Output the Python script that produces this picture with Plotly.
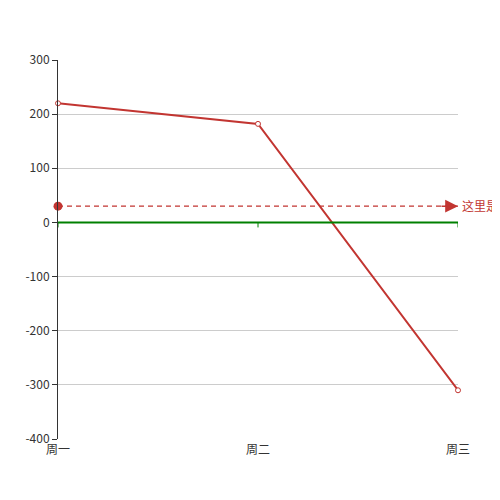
import plotly.graph_objects as go

categories = ["周一", "周二", "周三"]
values = [220, 182, -310]
mark_value = 30
mark_label = "这里是"
y_ticks = [-400, -300, -200, -100, 0, 100, 200, 300]
y_tick_text = [str(v) for v in y_ticks]

RED = "#c23531"
FONT = "Noto Sans CJK SC, Microsoft YaHei, sans-serif"

fig = go.Figure()

fig.add_trace(go.Scatter(
    x=categories, y=values, mode="lines+markers",
    line=dict(color=RED, width=2),
    marker=dict(symbol="circle", size=5, color="white", line=dict(color=RED, width=1)),
    showlegend=False, hoverinfo="skip", cliponaxis=False,
))

# mark line (dashed) with start circle and end arrow
fig.add_trace(go.Scatter(
    x=[categories[0], categories[-1]], y=[mark_value, mark_value], mode="lines",
    line=dict(color=RED, width=1.2, dash="5px,4px"),
    showlegend=False, hoverinfo="skip", cliponaxis=False,
))
fig.add_trace(go.Scatter(
    x=[categories[0]], y=[mark_value], mode="markers",
    marker=dict(symbol="circle", size=9, color=RED),
    showlegend=False, hoverinfo="skip", cliponaxis=False,
))
fig.add_annotation(
    x=categories[-1], y=mark_value, ax=-18, ay=0, xref="x", yref="y",
    axref="pixel", ayref="pixel", text="", showarrow=True,
    arrowhead=2, arrowsize=1.6, arrowwidth=1.6, arrowcolor=RED, standoff=0,
)
fig.add_annotation(
    x=categories[-1], y=mark_value, xref="x", yref="y", text=mark_label,
    showarrow=False, xanchor="left", xshift=2, yshift=1,
    font=dict(family=FONT, size=12, color=RED),
)

# green zero axis line with ticks
fig.add_shape(type="line", xref="paper", yref="y", x0=0, x1=1, y0=0, y1=0,
              line=dict(color="green", width=2), layer="above")
for c in categories:
    fig.add_shape(type="line", xref="x", yref="y", x0=c, x1=c,
                  ysizemode="pixel", yanchor=0, y0=0, y1=-5,
                  line=dict(color="green", width=1), layer="above")

fig.update_layout(
    width=492, height=484,
    margin=dict(l=50, r=42, t=52, b=53),
    paper_bgcolor="white", plot_bgcolor="white",
    font=dict(family=FONT, size=12, color="#333"),
    xaxis=dict(
        type="category", range=[0, len(categories) - 1],
        showgrid=False, showline=False, zeroline=False,
        ticks="", tickfont=dict(size=12, color="#333"), ticklabelstandoff=2,
    ),
    yaxis=dict(
        range=[-400, 300], tickvals=y_ticks, ticktext=y_tick_text,
        showgrid=True, gridcolor="#ccc", gridwidth=1,
        showline=True, linecolor="#333", linewidth=1,
        ticks="outside", ticklen=5, tickcolor="#333",
        zeroline=False, tickfont=dict(size=12, color="#333"),
    ),
)

fig.write_html("out.html")
